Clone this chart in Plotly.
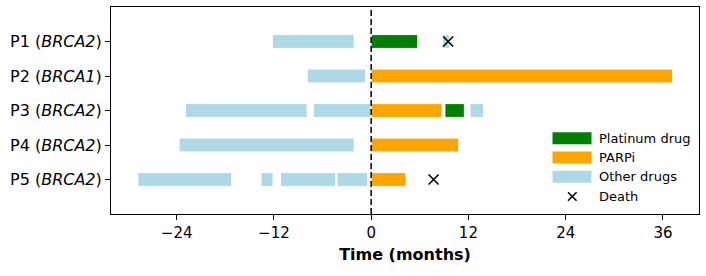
import plotly.graph_objects as go

# ---- data ----
patients = ["P1", "P2", "P3", "P4", "P5"]
genes = ["BRCA2", "BRCA1", "BRCA2", "BRCA2", "BRCA2"]

platinum_row = [0, 2]
platinum_start = [0.0, 9.1]
platinum_end = [5.75, 11.5]

parpi_row = [1, 2, 3, 4]
parpi_start = [0.0, 0.0, 0.0, 0.0]
parpi_end = [37.2, 8.7, 10.8, 4.3]

other_row = [0, 0, 1, 2, 2, 2, 3, 4, 4, 4, 4]
other_start = [-12.2, 8.8, -7.9, -22.9, -7.1, 12.2, -23.7, -28.8, -13.6, -11.2, -4.2]
other_end = [-2.1, 9.65, -0.7, -7.9, 0.0, 13.85, -2.1, -17.2, -12.1, -4.4, -0.45]

death_row = [0, 4]
death_time = [9.5, 7.7]

x_ticks = [-24, -12, 0, 12, 24, 36]
x_tick_text = ["\u221224", "\u221212", "0", "12", "24", "36"]

legend_names = ["Platinum drug", "PARPi", "Other drugs", "Death"]
C_PLAT = "#008000"
C_PARP = "#FFA500"
C_OTHER = "#ADD8E6"

W, H = 706, 276
L, R, T, B = 111, 7, 7, 62
FONT = "DejaVu Sans"

fig = go.Figure()

def add_bars(rows, starts, ends, color, name):
    fig.add_trace(go.Bar(
        orientation="h",
        y=rows,
        x=[e - s for s, e in zip(starts, ends)],
        base=starts,
        width=0.4,
        marker=dict(color=color, line=dict(color="white", width=1)),
        name=name, showlegend=False, hoverinfo="skip",
    ))

add_bars(other_row, other_start, other_end, C_OTHER, "Other drugs")
add_bars(platinum_row, platinum_start, platinum_end, C_PLAT, "Platinum drug")
add_bars(parpi_row, parpi_start, parpi_end, C_PARP, "PARPi")

fig.add_trace(go.Scatter(
    x=death_time, y=death_row, mode="markers",
    marker=dict(symbol="x-thin", size=10, color="black",
                line=dict(color="black", width=1.6)),
    showlegend=False, hoverinfo="skip",
))

# dashed zero line
fig.add_shape(type="line", x0=0, x1=0, xref="x", y0=0, y1=1, yref="paper",
              line=dict(color="black", width=1.5, dash="6px,3px"), layer="above")

# ---- manual legend (pixel -> paper helpers) ----
pw, ph = W - L - R, H - T - B
def px(xp):
    return (xp - L) / pw
def py(yp):
    return 1 - (yp - T) / ph

leg_colors = [C_PLAT, C_PARP, C_OTHER]
row_y = [138.3, 157.5, 176.7, 196.5]
for i, c in enumerate(leg_colors):
    fig.add_shape(type="rect", xref="paper", yref="paper",
                  x0=px(552.5), x1=px(591.5), y0=py(row_y[i] - 6), y1=py(row_y[i] + 6),
                  fillcolor=c, line=dict(width=0), layer="above")
# X symbol for death
cx, cy, hs = 572.3, row_y[3], 4.3
for (a, b, c, d) in [(cx - hs, cy - hs, cx + hs, cy + hs), (cx - hs, cy + hs, cx + hs, cy - hs)]:
    fig.add_shape(type="line", xref="paper", yref="paper",
                  x0=px(a), y0=py(b), x1=px(c), y1=py(d),
                  line=dict(color="black", width=1.6), layer="above")
for i, name in enumerate(legend_names):
    fig.add_annotation(xref="paper", yref="paper", x=px(596.5), y=py(row_y[i]),
                       text=name, showarrow=False, xanchor="left", yanchor="middle",
                       font=dict(family=FONT, size=13, color="black"))

fig.update_layout(
    width=W, height=H,
    margin=dict(l=L, r=R, t=T, b=B, pad=0),
    paper_bgcolor="white", plot_bgcolor="white",
    barmode="overlay",
    font=dict(family=FONT, color="black"),
)
fig.update_xaxes(
    range=[-32.1, 40.45],
    tickvals=x_ticks, ticktext=x_tick_text,
    tickfont=dict(family=FONT, size=15, color="black"),
    ticks="outside", ticklen=5, tickwidth=1, tickcolor="black",
    showline=True, linecolor="black", linewidth=1, mirror=True,
    showgrid=False, zeroline=False,
    title=dict(text="<b>Time (months)</b>", font=dict(family=FONT, size=16, color="black"), standoff=7),
)
fig.update_yaxes(
    range=[5, -1],
    tickvals=list(range(len(patients))),
    ticktext=[f"{p} (<i>{g}</i>)" for p, g in zip(patients, genes)],
    tickfont=dict(family=FONT, size=16, color="black"),
    ticks="outside", ticklen=5, tickwidth=1, tickcolor="black",
    showline=True, linecolor="black", linewidth=1, mirror=True,
    showgrid=False, zeroline=False,
)

fig.write_html("out.html")
